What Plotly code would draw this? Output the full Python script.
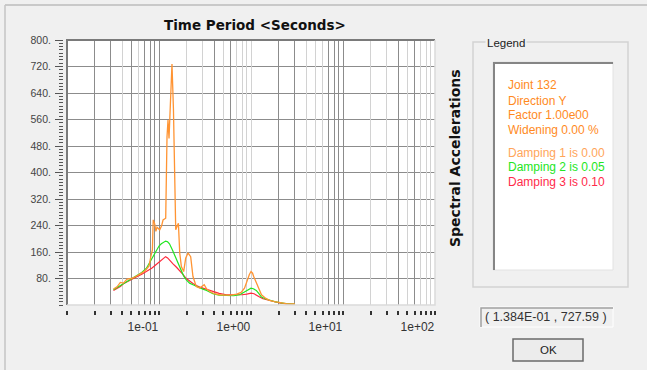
import plotly.graph_objects as go

# ---------------- data ----------------
period_d1 = [0.032, 0.035, 0.038, 0.041, 0.045, 0.050, 0.056, 0.062, 0.068, 0.073, 0.078, 0.082,
             0.0848, 0.0865, 0.0898, 0.0925, 0.0951, 0.1018, 0.107, 0.1107, 0.1183, 0.1222, 0.1253,
             0.1285, 0.1330, 0.1384, 0.1435, 0.148, 0.152, 0.157, 0.1625, 0.168, 0.175, 0.1854,
             0.195, 0.2066, 0.221, 0.234, 0.254, 0.277, 0.300, 0.310, 0.330, 0.36, 0.40, 0.45, 0.52,
             0.60, 0.70, 0.78, 0.85, 0.925, 0.96, 1.0, 1.04, 1.07, 1.14, 1.22, 1.3, 1.45, 1.59, 1.8,
             2.05, 2.4, 3.0]
accel_d1 = [48, 55, 68, 66, 78, 80, 86, 93, 100, 108, 118, 150,
            166, 257, 245, 222, 235, 227, 240, 257, 262, 508, 558,
            503, 588, 727.59, 593, 437, 227, 237, 247, 157, 116, 101,
            141, 157, 146, 86, 56, 51, 58, 61, 48, 40, 34, 31, 30,
            30, 33, 38, 51, 81, 92, 101, 96, 86, 66, 45, 31, 20, 14, 10,
            7, 4, 3]

period_d2 = [0.032, 0.038, 0.045, 0.055, 0.065, 0.073, 0.080, 0.088, 0.094, 0.100, 0.106, 0.112,
             0.118, 0.124, 0.130, 0.140, 0.147, 0.154, 0.165, 0.175, 0.185, 0.198, 0.215, 0.234,
             0.255, 0.277, 0.300, 0.329, 0.36, 0.386, 0.45, 0.54, 0.65, 0.754, 0.82, 0.89, 0.95,
             1.0, 1.06, 1.14, 1.22, 1.3, 1.45, 1.59, 1.8, 2.05, 2.4, 3.0]
accel_d2 = [46, 58, 72, 85, 98, 111, 130, 152, 166, 178, 185, 190,
            193, 191, 185, 166, 152, 136, 115, 101, 88, 76, 66, 61,
            56, 51, 48, 44, 38, 34, 30, 28, 28, 31, 37, 44, 49,
            51, 49, 44, 34, 24, 18, 14, 10, 7, 4, 3]

period_d3 = [0.032, 0.038, 0.041, 0.048, 0.056, 0.065, 0.073, 0.084, 0.094, 0.105, 0.113, 0.118,
             0.124, 0.132, 0.142, 0.155, 0.168, 0.183, 0.198, 0.215, 0.234, 0.255, 0.277, 0.33,
             0.386, 0.45, 0.54, 0.65, 0.80, 0.90, 1.0, 1.08, 1.16, 1.24, 1.35, 1.59, 1.8, 2.05,
             2.4, 3.0]
accel_d3 = [44, 56, 64, 75, 84, 93, 101, 112, 123, 134, 142, 146,
            142, 133, 124, 114, 104, 92, 80, 72, 65, 59, 54, 47,
            40, 35, 31, 30, 31, 33, 36, 34, 30, 24, 19, 13, 9, 6,
            3, 2]

y_grid_vals = [80, 160, 240, 320, 400, 480, 560, 640, 720, 800]
y_tick_step = 10
y_tickvals = list(range(0, 801, y_tick_step))
y_ticktext = [f"{v}." if v in y_grid_vals else "" for v in y_tickvals]

x_tickvals = [m * 10.0 ** e for e in (-2, -1, 0, 1) for m in range(1, 10)] + [100.0]
x_label_map = {0.1: "1e-01", 1.0: "1e+00", 10.0: "1e+01", 100.0: "1e+02"}
x_ticktext = [x_label_map.get(round(v, 6), "") for v in x_tickvals]
x_dark_grid = [0.02, 0.03, 0.05, 0.07, 0.08, 0.09, 0.1, 0.4, 0.6, 2, 3, 7, 8, 9, 10, 40, 60]

legend_lines = ["Joint 132", "Direction Y", "Factor 1.00e00", "Widening 0.00 %"]
damping_labels = ["Damping 1 is 0.00", "Damping 2 is 0.05", "Damping 3 is 0.10"]

ORANGE = "#ff9433"
GREEN = "#22e622"
RED = "#ff2a3c"
TEXT_ORANGE = "#ff8a1e"

# ---------------- geometry helpers ----------------
W, H = 647, 370
ML, MR, MT, MB = 55, 212, 40, 60
PW = W - ML - MR
PH = H - MT - MB


def px(x):
    return (x - ML) / PW


def py(y):
    return (H - MB - y) / PH


FONT = "Liberation Sans"
BOLD_FONT = "DejaVu Sans"

fig = go.Figure()
fig.add_trace(go.Scatter(x=period_d3, y=accel_d3, mode="lines",
                         line=dict(color=RED, width=1.2), hoverinfo="skip"))
fig.add_trace(go.Scatter(x=period_d2, y=accel_d2, mode="lines",
                         line=dict(color=GREEN, width=1.2), hoverinfo="skip"))
fig.add_trace(go.Scatter(x=period_d1, y=accel_d1, mode="lines",
                         line=dict(color=ORANGE, width=1.3), hoverinfo="skip"))
# empty trace to realise overlay axis (dark gridlines)
fig.add_trace(go.Scatter(x=[], y=[], xaxis="x2", yaxis="y", hoverinfo="skip"))

fig.update_layout(
    width=W, height=H,
    margin=dict(l=ML, r=MR, t=MT, b=MB, pad=0),
    paper_bgcolor="#f0f0f0",
    plot_bgcolor="white",
    showlegend=False,
    font=dict(family=FONT, size=11, color="#333"),
    xaxis=dict(
        type="log", range=[-2, 2], autorange=False,
        domain=[px(67), 1],
        anchor="free", position=0,
        tickmode="array", tickvals=x_tickvals, ticktext=x_ticktext,
        ticks="outside", ticklen=4, tickwidth=1.5, tickcolor="#333",
        ticklabelposition="outside left", ticklabelstandoff=6,
        tickfont=dict(size=12, color="#333", family=FONT),
        showgrid=True, gridcolor="#d2d2d2", gridwidth=1,
        showline=False, zeroline=False,
    ),
    xaxis2=dict(
        type="log", range=[-2, 2], autorange=False,
        overlaying="x", anchor="y", side="top",
        tickmode="array", tickvals=x_dark_grid,
        showticklabels=False, ticks="",
        showgrid=True, gridcolor="#8c8c8c", gridwidth=1,
        showline=False, zeroline=False,
    ),
    yaxis=dict(
        range=[0, 800], autorange=False,
        domain=[py(305), 1],
        anchor="free", position=px(63),
        tickmode="array", tickvals=y_tickvals, ticktext=y_ticktext,
        ticks="outside", ticklen=4, tickwidth=1, tickcolor="#555",
        tickfont=dict(size=10.5, color="#444", family=FONT),
        ticklabelstandoff=6,
        showgrid=False,
        minor=dict(tickmode="array", tickvals=y_grid_vals, ticks="outside",
                   ticklen=8, tickcolor="#555", tickwidth=1.2,
                   showgrid=True, gridcolor="#8c8c8c", gridwidth=1),
        showline=False, zeroline=False,
    ),
)

shapes = []
# plot frame (sunken look)
shapes.append(dict(type="path", xref="x domain", yref="y domain",
                   path="M 0 0 L 0 1 L 1 1", line=dict(color="#7a7a7a", width=2), layer="above"))
shapes.append(dict(type="path", xref="x domain", yref="y domain",
                   path="M 1 1 L 1 0 L 0 0", line=dict(color="#dadada", width=1.5), layer="above"))
# outer dialog frame
shapes.append(dict(type="line", xref="paper", yref="paper", x0=px(5), x1=px(W), y0=py(5), y1=py(5),
                   line=dict(color="#bdbdbd", width=1.5)))
shapes.append(dict(type="line", xref="paper", yref="paper", x0=px(5), x1=px(5), y0=py(5), y1=py(H),
                   line=dict(color="#c4c4c4", width=1.5)))
# legend group box
shapes.append(dict(type="rect", xref="paper", yref="paper", x0=px(473), x1=px(628), y0=py(42), y1=py(287),
                   line=dict(color="#d2d2d2", width=1.5)))
# legend inner white box
shapes.append(dict(type="rect", xref="paper", yref="paper", x0=px(493), x1=px(613), y0=py(62), y1=py(270),
                   fillcolor="white", line=dict(color="#e2e2e2", width=1)))
shapes.append(dict(type="path", xref="paper", yref="paper",
                   path=f"M {px(494)} {py(270)} L {px(494)} {py(63)} L {px(613)} {py(63)}",
                   line=dict(color="#858585", width=2)))
# readout box
shapes.append(dict(type="rect", xref="paper", yref="paper", x0=px(480), x1=px(613), y0=py(307), y1=py(327),
                   fillcolor="#f0f0f0", line=dict(color="#ffffff", width=1)))
shapes.append(dict(type="path", xref="paper", yref="paper",
                   path=f"M {px(481)} {py(327)} L {px(481)} {py(308)} L {px(613)} {py(308)}",
                   line=dict(color="#a0a0a0", width=1.5)))
# OK button
shapes.append(dict(type="rect", xref="paper", yref="paper", x0=px(513), x1=px(583), y0=py(339), y1=py(361),
                   fillcolor="#ececec", line=dict(color="#6a6a6a", width=1.5)))
fig.update_layout(shapes=shapes)

ann = []
ann.append(dict(text="<b>Time Period &lt;Seconds&gt;</b>", x=px(255), y=py(25), xref="paper", yref="paper",
                showarrow=False, xanchor="center", yanchor="middle",
                font=dict(size=13.5, color="#111", family=BOLD_FONT)))
ann.append(dict(text="<b>Spectral Accelerations</b>", x=px(455), y=py(158), xref="paper", yref="paper",
                showarrow=False, xanchor="center", yanchor="middle", textangle=-90,
                font=dict(size=14, color="#111", family=BOLD_FONT)))
ann.append(dict(text="Legend", x=px(485), y=py(43), xref="paper", yref="paper", showarrow=False,
                xanchor="left", yanchor="middle", bgcolor="#f0f0f0", borderpad=1,
                font=dict(size=11.5, color="#222", family=FONT)))
line_y = [85, 100.5, 115, 130]
for t, yy in zip(legend_lines, line_y):
    ann.append(dict(text=t, x=px(506), y=py(yy), xref="paper", yref="paper", showarrow=False,
                    xanchor="left", yanchor="middle", font=dict(size=12, color=TEXT_ORANGE, family=FONT)))
for t, yy, c in zip(damping_labels, [152.5, 167.3, 182], ["#ffa55a", "#22e622", "#ff2a4a"]):
    ann.append(dict(text=t, x=px(506), y=py(yy), xref="paper", yref="paper", showarrow=False,
                    xanchor="left", yanchor="middle", font=dict(size=12, color=c, family=FONT)))
i_peak = max(range(len(accel_d1)), key=lambda i: accel_d1[i])
readout = f"( {period_d1[i_peak]:.3E} , {accel_d1[i_peak]:.2f} )"
ann.append(dict(text=readout, x=px(546), y=py(317), xref="paper", yref="paper", showarrow=False,
                xanchor="center", yanchor="middle", font=dict(size=12.5, color="#333", family=FONT)))
ann.append(dict(text="OK", x=px(548), y=py(350), xref="paper", yref="paper", showarrow=False,
                xanchor="center", yanchor="middle", font=dict(size=11.5, color="#222", family=FONT)))
fig.update_layout(annotations=ann)

fig.write_html("out.html")
